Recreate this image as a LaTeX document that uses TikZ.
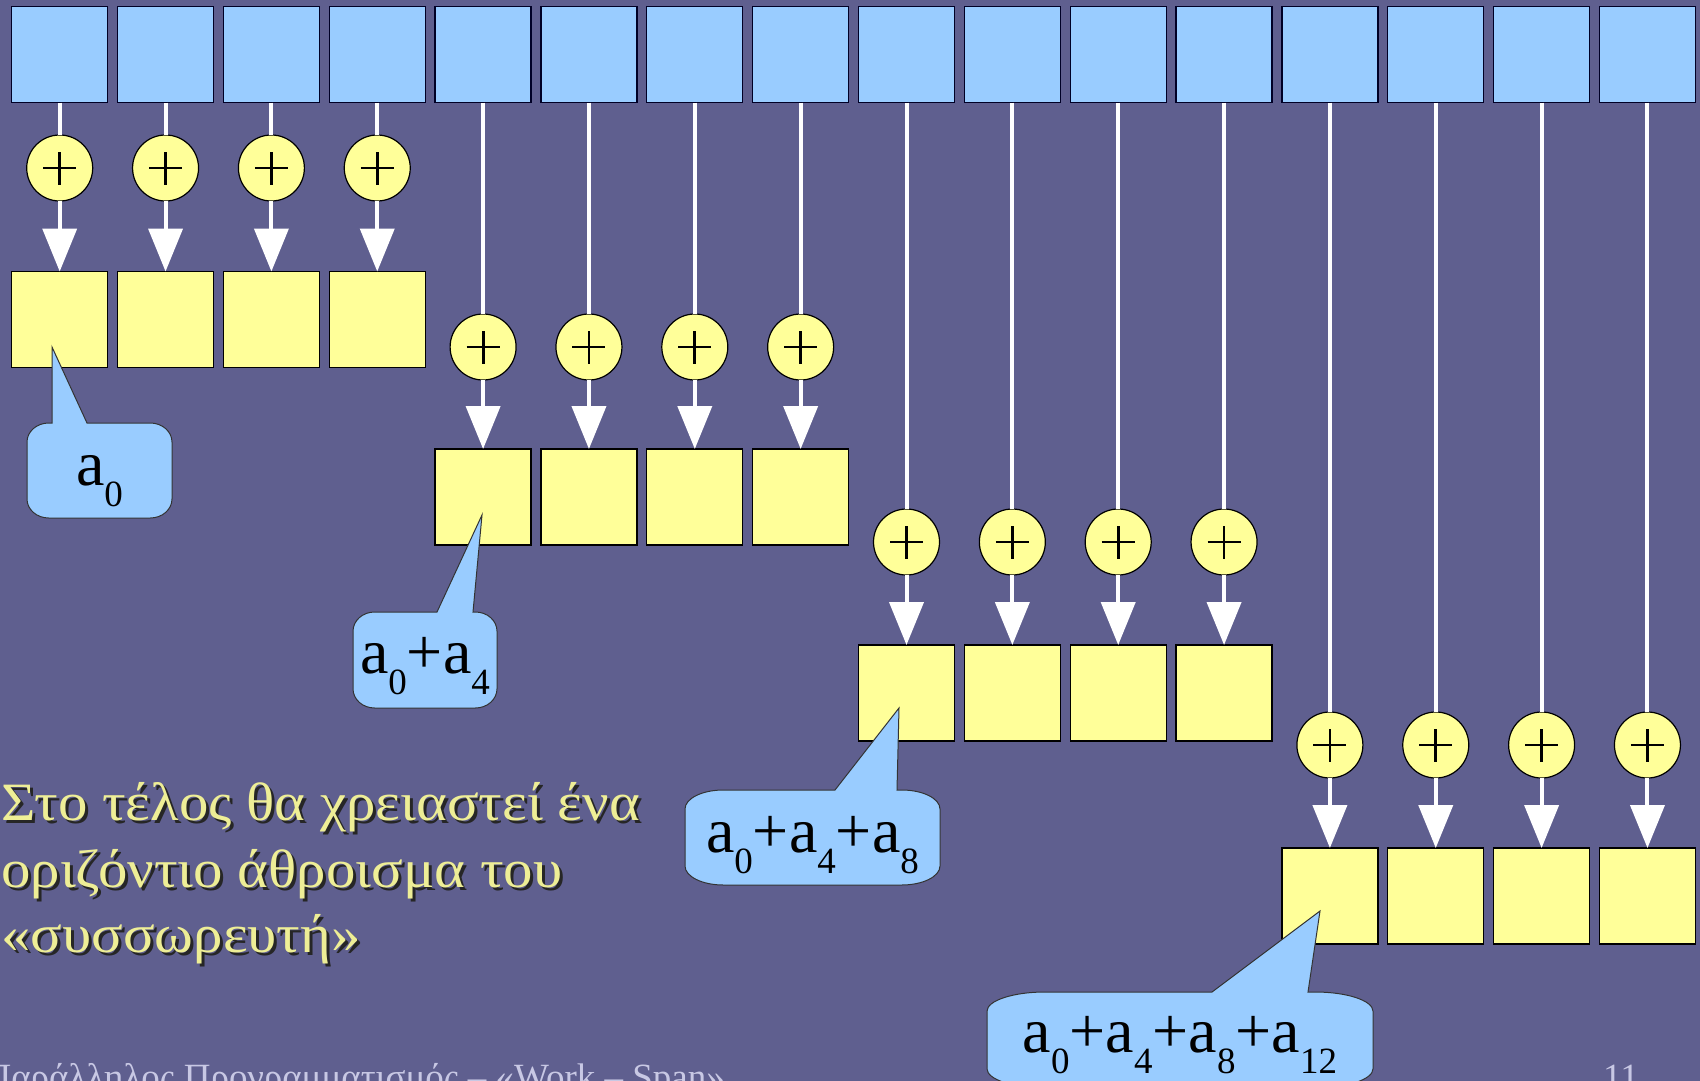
\documentclass[tikz,border=0pt]{standalone}
\usepackage{fontspec}
\setmainfont{Liberation Serif}
\usetikzlibrary{arrows.meta}
\definecolor{bg}{RGB}{95,95,143}
\definecolor{boxblue}{RGB}{153,204,255}
\definecolor{boxyellow}{RGB}{255,255,153}
\definecolor{greektext}{RGB}{238,238,150}
\definecolor{footer}{RGB}{200,200,228}
\tikzset{
 bluebox/.style={draw=black!85!blue, line width=1.3pt, fill=boxblue, minimum size=96pt, inner sep=0pt, outer sep=0pt},
 yelbox/.style={draw=black, line width=1.3pt, fill=boxyellow, minimum size=96pt, inner sep=0pt, outer sep=0pt},
 plusbar/.style={line width=2.8pt, black},
 addc/.style={circle, draw=black, line width=1.2pt, fill=boxyellow, minimum size=66pt, inner sep=0pt, outer sep=0pt,
   path picture={\draw[plusbar] ([xshift=-16.5pt]path picture bounding box.center) -- ([xshift=16.5pt]path picture bounding box.center);
                 \draw[plusbar] ([yshift=-16.5pt]path picture bounding box.center) -- ([yshift=16.5pt]path picture bounding box.center);}},
 feed/.style={white, line width=4pt},
 feedarrow/.style={white, line width=4pt, -{Triangle[width=34pt,length=43pt]}},
 callout/.style={draw=black!80, line width=1pt, fill=boxblue},
 ctext/.style={font=\fontsize{64}{70}\selectfont, anchor=base, inner sep=0pt},
 greek/.style={font=\fontsize{54}{60}\selectfont, anchor=base west, inner sep=0pt, text=greektext},
 greekshadow/.style={font=\fontsize{54}{60}\selectfont, anchor=base west, inner sep=0pt, text=black!85},
 foot/.style={font=\fontsize{37}{40}\selectfont, text=footer, inner sep=0pt},
}
\newcommand\lowsub[1]{\raisebox{-21pt}{\fontsize{37}{40}\selectfont #1}}
\newcommand\wide[1]{\scalebox{1.09}[1]{#1}}
\newcommand\speech[8]{%
  \pgfmathsetmacro\cxr{0.15*(#3-(#1))}%
  \pgfmathsetmacro\cyr{0.2*(#4-(#2))}%
  \pgfmathsetmacro\Lxi{#1+\cxr}\pgfmathsetmacro\Rxi{#3-\cxr}%
  \pgfmathsetmacro\Tyi{#2+\cyr}\pgfmathsetmacro\Byi{#4-\cyr}%
  \pgfmathsetmacro\Lxc{#1+0.448*\cxr}\pgfmathsetmacro\Rxc{#3-0.448*\cxr}%
  \pgfmathsetmacro\Tyc{#2+0.448*\cyr}\pgfmathsetmacro\Byc{#4-0.448*\cyr}%
  \filldraw[callout] (#5,#2) -- (#7,#8) -- (#6,#2) -- (\Rxi,#2) .. controls (\Rxc,#2) and (#3,\Tyc) .. (#3,\Tyi) -- (#3,\Byi) .. controls (#3,\Byc) and (\Rxc,#4) .. (\Rxi,#4) -- (\Lxi,#4) .. controls (\Lxc,#4) and (#1,\Byc) .. (#1,\Byi) -- (#1,\Tyi) .. controls (#1,\Tyc) and (\Lxc,#2) .. (\Lxi,#2) -- cycle;%
}
\begin{document}
\begin{tikzpicture}[x=1pt,y=-1pt]
\useasboundingbox (0,0) rectangle (1700,1081);
\clip (0,0) rectangle (1700,1081);
\fill[bg] (0,0) rectangle (1700,1081);
% top row
\foreach \i in {0,...,15} {
  \pgfmathsetmacro\xx{59.7+105.85*\i}
  \node[bluebox] (t\i) at (\xx,54.7) {};
}
% four groups
\foreach \g/\cy/\by in {0/168/319.5, 1/347/497, 2/542/693, 3/745/896} {
  \foreach \j in {0,...,3} {
    \pgfmathtruncatemacro\i{4*\g+\j}
    \pgfmathsetmacro\xx{59.7+105.85*\i}
    \node[yelbox] (y\i) at (\xx,\by) {};
    \node[addc] (c\i) at (\xx,\cy) {};
    \draw[feed] (t\i.south) -- (c\i.north);
    \draw[feedarrow] (c\i.south) -- (y\i.north);
  }
}
% callouts
\speech{27}{423}{172}{518}{52}{87}{52}{347}
\node[ctext] (k1) at (99.5,485) {a\lowsub{0}};
\speech{353}{612}{497}{708}{437}{473}{482}{515}
\node[ctext] (k2) at (425,673) {a\lowsub{0}+a\lowsub{4}};
\speech{685}{790}{940}{885}{835}{897}{899}{708}
\node[ctext] (k3) at (812.5,852) {a\lowsub{0}+a\lowsub{4}+a\lowsub{8}};
\speech{987}{992}{1373}{1088}{1212}{1308}{1320}{911}
\node[ctext] (k4) at (1180,1052) {a\lowsub{0}+a\lowsub{4}+a\lowsub{8}+a\lowsub{12}};
% greek text
\node[greekshadow] (gs1) at (4,823) {\wide{Στο τέλος θα χρειαστεί ένα}};
\node[greek] (g1) at (1,820) {\wide{Στο τέλος θα χρειαστεί ένα}};
\node[greekshadow] (gs2) at (4,890) {\wide{οριζόντιο άθροισμα του}};
\node[greek] (g2) at (1,887) {\wide{οριζόντιο άθροισμα του}};
\node[greekshadow] (gs3) at (4,955) {\wide{«συσσωρευτή»}};
\node[greek] (g3) at (1,952) {\wide{«συσσωρευτή»}};
% footer
\node[foot, anchor=base east] (foot) at (725,1089.5) {Παράλληλος Προγραμματισμός – «Work – Span»};
\node[foot, anchor=base] (pg) at (1621,1089.5) {11};
\end{tikzpicture}
\end{document}
